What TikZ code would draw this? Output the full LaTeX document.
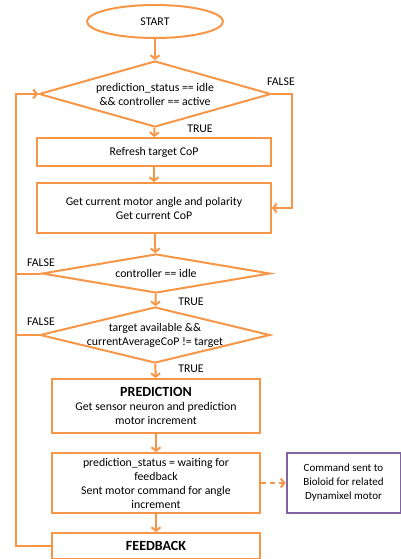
\documentclass[tikz,border=0pt]{standalone}
\usepackage{fontspec}
\setmainfont{Carlito}
\usetikzlibrary{shapes.geometric,arrows.meta}
\definecolor{flowline}{HTML}{F79646}
\definecolor{sideline}{HTML}{8064A2}

\begin{document}
\begin{tikzpicture}[x=1pt,y=-1pt,
    every node/.style={font=\fontsize{11.8}{14}\selectfont},
    block/.style={draw=flowline,line width=2pt,rectangle,align=center,inner sep=1pt},
    decision/.style={draw=flowline,line width=2pt,diamond,align=center,inner sep=-4pt},
    flow/.style={draw=flowline,line width=2pt,-{Straight Barb[length=3.5pt,width=9pt]}},
    branch/.style={draw=flowline,line width=2pt},
    title/.style={font=\fontsize{14}{16}\selectfont\bfseries}]
  \useasboundingbox (0,0) rectangle (401,559);
  % main column
  \node[ellipse,draw=flowline,line width=2pt,minimum width=136pt,minimum height=33pt] (start) at (155,21.5) {START};
  \node[decision,aspect=3.5,minimum width=232pt,minimum height=66pt] (idle) at (155,94) {prediction\_status == idle\\\&\& controller == active};
  \node[block,minimum width=234pt,minimum height=28pt] (refresh) at (154,152) {Refresh target CoP};
  \node[block,minimum width=234pt,minimum height=50pt] (current) at (154,208) {Get current motor angle and polarity\\Get current CoP};
  \node[decision,aspect=5.8,minimum width=228pt,minimum height=39pt] (ctrl) at (156,273.5) {controller == idle};
  \node[decision,aspect=4.1,minimum width=230pt,minimum height=56pt] (target) at (155,335) {target available \&\&\\currentAverageCoP != target};
  \node[block,minimum width=208pt,minimum height=54pt] (predict) at (156,406) {{\fontsize{14}{16}\selectfont\bfseries PREDICTION}\\Get sensor neuron and prediction\\motor increment};
  \node[block,minimum width=208pt,minimum height=60pt] (wait) at (156,483) {prediction\_status = waiting for\\feedback\\Sent motor command for angle\\increment};
  \node[block,title,minimum width=208pt,minimum height=26pt] (feedback) at (156,546) {FEEDBACK};
  \node[block,draw=sideline,font=\fontsize{11}{14}\selectfont,minimum width=114pt,minimum height=60pt] (command) at (343.5,483) {Command sent to\\Bioloid for related\\Dynamixel motor};
  % connectors
  \draw[flow] (start) -- (idle);
  \draw[flow] (idle) -- (refresh);
  \draw[flow] (refresh) -- (current);
  \draw[flow] (current) -- (ctrl);
  \draw[flow] (ctrl) -- (target);
  \draw[flow] (target) -- (predict);
  \draw[flow] (predict) -- (wait);
  \draw[flow] (wait) -- (feedback);
  \draw[flow,dash pattern=on 5pt off 4pt] (wait) -- (command);
  \draw[flow] (idle.east) -- (292,94) |- (current.east);
  \draw[flow] (feedback.west) -- (16,546) -- (16,94) -- (idle.west);
  \draw[branch] (ctrl.west) -- (16,273.5);
  \draw[branch] (target.west) -- (16,335);
  % branch labels
  \node at (281,82) {FALSE};
  \node at (200,129) {TRUE};
  \node at (41,263) {FALSE};
  \node at (191,302) {TRUE};
  \node at (41,322) {FALSE};
  \node at (191,369) {TRUE};
\end{tikzpicture}
\end{document}
